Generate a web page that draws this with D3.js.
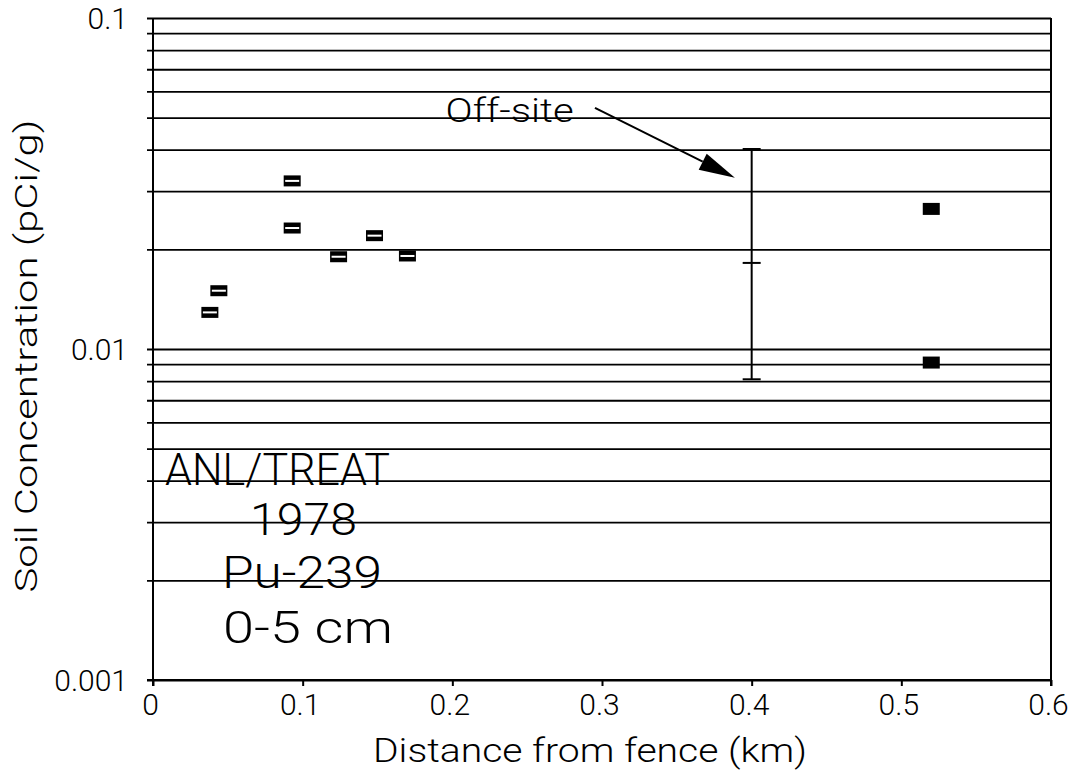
<!DOCTYPE html>
<html>
<head>
<meta charset="utf-8">
<script src="https://cdn.jsdelivr.net/npm/d3@7"></script>
<style>
  body { margin: 0; background: #fff; }
  text { font-family: Roboto, "DejaVu Sans", sans-serif; font-weight: 300; fill: #000; }
  .tick text { font-size: 30px; }
</style>
</head>
<body>
<svg class="chart" width="1078" height="774"></svg>
<script>
// on-site samples (km, pCi/g)
const onsiteX = [0.038, 0.044, 0.093, 0.093, 0.124, 0.148, 0.170]
const onsiteY = [0.0129, 0.0150, 0.0322, 0.0232, 0.0190, 0.0220, 0.0191]

// off-site samples
const offsiteX = [0.52, 0.52]
const offsiteY = [0.0265, 0.0091]

// off-site range bar at 0.4 km: low, mid, high
const rangeX = 0.4
const rangeVals = [0.0081, 0.0182, 0.0402]

const xTicks = [0, 0.1, 0.2, 0.3, 0.4, 0.5, 0.6]
const xTickLabels = ['0', '0.1', '0.2', '0.3', '0.4', '0.5', '0.6']
const yDecades = [0.001, 0.01, 0.1]
const yTickLabels = ['0.001', '0.01', '0.1']

const infoLines = ['ANL/TREAT', '1978', 'Pu-239', '0-5 cm']

const svg = d3.select('.chart')
const margin = {top:18, left:153, right:27, bottom:94}
const width = +svg.attr('width')
const height = +svg.attr('height')
const innerWidth = width - margin.left - margin.right
const innerHeight = height - margin.top - margin.bottom

const xScale = d3.scaleLinear().domain([0, 0.6]).range([0, innerWidth])
const yScale = d3.scaleLog().domain([0.001, 0.1]).range([innerHeight, 0])

const g = svg.append('g')
  .attr('transform', `translate(${margin.left},${margin.top})`)

// horizontal lines at every log tick, poking out 6px on the left
const yAxis = g.append('g')
  .attr('transform', 'translate(-6,0)')
  .call(d3.axisLeft(yScale)
    .tickSizeInner(-(innerWidth + 6))
    .tickSizeOuter(0)
    .tickPadding(19)
    .tickFormat(d => {
      const i = yDecades.findIndex(v => Math.abs(v - d) < d * 1e-6)
      return i >= 0 ? yTickLabels[i] : ''
    }))
yAxis.select('.domain').remove()
yAxis.selectAll('.tick line').attr('stroke', '#000').attr('stroke-width', 1.8)
yAxis.selectAll('.tick text').filter(function() { return this.textContent === '' }).remove()
yAxis.selectAll('.tick text').attr('dy', '0.36em')

// x axis
const xAxis = g.append('g')
  .attr('transform', `translate(0,${innerHeight})`)
  .call(d3.axisBottom(xScale)
    .tickValues(xTicks)
    .tickSize(6)
    .tickPadding(8)
    .tickFormat((d, i) => xTickLabels[i]))
xAxis.select('.domain').remove()
xAxis.selectAll('.tick line').attr('stroke', '#000').attr('stroke-width', 2)
xAxis.selectAll('.tick text').attr('dx', -3)

// frame: left, bottom, right
g.append('line').attr('x1', 0).attr('x2', 0).attr('y1', 0).attr('y2', innerHeight + 6)
  .attr('stroke', '#000').attr('stroke-width', 2)
g.append('line').attr('x1', -6).attr('x2', innerWidth).attr('y1', innerHeight).attr('y2', innerHeight)
  .attr('stroke', '#000').attr('stroke-width', 2.2)
g.append('line').attr('x1', innerWidth).attr('x2', innerWidth).attr('y1', 0).attr('y2', innerHeight + 6)
  .attr('stroke', '#000').attr('stroke-width', 2)

// on-site markers: black box with a white slit
const onsite = onsiteX.map((x, i) => ({x, y: onsiteY[i]}))
const mk = g.selectAll('.onsite').data(onsite).enter().append('g')
  .attr('class', 'onsite')
  .attr('transform', d => `translate(${xScale(d.x)},${yScale(d.y)})`)
mk.append('rect').attr('x', -8.5).attr('y', -5.5).attr('width', 17).attr('height', 11).attr('fill', '#000')
mk.append('rect').attr('x', -7).attr('y', -1).attr('width', 14).attr('height', 2).attr('fill', '#fff')

// off-site markers: solid boxes
const offsite = offsiteX.map((x, i) => ({x, y: offsiteY[i]}))
g.selectAll('.offsite').data(offsite).enter().append('rect')
  .attr('class', 'offsite')
  .attr('x', d => xScale(d.x) - 8.5)
  .attr('y', d => yScale(d.y) - 6)
  .attr('width', 17).attr('height', 12)
  .attr('fill', '#000')

// range bar
const rx = xScale(rangeX)
g.append('line')
  .attr('x1', rx).attr('x2', rx)
  .attr('y1', yScale(rangeVals[2])).attr('y2', yScale(rangeVals[0]))
  .attr('stroke', '#000').attr('stroke-width', 2)
g.selectAll('.cap').data(rangeVals).enter().append('line')
  .attr('class', 'cap')
  .attr('x1', rx - 9).attr('x2', rx + 9)
  .attr('y1', d => yScale(d)).attr('y2', d => yScale(d))
  .attr('stroke', '#000').attr('stroke-width', 2)

// Off-site label + arrow
g.append('text')
  .attr('x', xScale(0.1955)).attr('y', 104)
  .attr('font-size', 33)
  .attr('textLength', 128).attr('lengthAdjust', 'spacingAndGlyphs')
  .text('Off-site')

const a0 = [xScale(0.2953), yScale(0.0535)]
const a1 = [xScale(0.3888), yScale(0.0329)]
const ang = Math.atan2(a1[1] - a0[1], a1[0] - a0[0])
const headLen = 36, headW = 9
const base = [a1[0] - headLen * Math.cos(ang), a1[1] - headLen * Math.sin(ang)]
g.append('line')
  .attr('x1', a0[0]).attr('y1', a0[1]).attr('x2', base[0]).attr('y2', base[1])
  .attr('stroke', '#000').attr('stroke-width', 2)
g.append('path')
  .attr('d', d3.line()([
    a1,
    [base[0] + headW * Math.sin(ang), base[1] - headW * Math.cos(ang)],
    [base[0] - headW * Math.sin(ang), base[1] + headW * Math.cos(ang)]
  ]) + 'Z')
  .attr('fill', '#000')

// info block
const infoPos = [
  {x: 12, y: 467, len: 225},
  {x: 97, y: 517, len: 107},
  {x: 69, y: 570, len: 160},
  {x: 70, y: 625, len: 170}
]
g.selectAll('.info').data(infoLines).enter().append('text')
  .attr('class', 'info')
  .attr('x', (d, i) => infoPos[i].x)
  .attr('y', (d, i) => infoPos[i].y)
  .attr('font-size', 44)
  .attr('textLength', (d, i) => infoPos[i].len)
  .attr('lengthAdjust', 'spacingAndGlyphs')
  .text(d => d)

// axis titles
svg.append('text')
  .attr('x', 590).attr('y', 762)
  .attr('text-anchor', 'middle')
  .attr('font-size', 33)
  .attr('textLength', 434).attr('lengthAdjust', 'spacingAndGlyphs')
  .text('Distance from fence (km)')

svg.append('text')
  .attr('transform', 'translate(37,356) rotate(-90)')
  .attr('text-anchor', 'middle')
  .attr('font-size', 31)
  .attr('textLength', 473).attr('lengthAdjust', 'spacingAndGlyphs')
  .text('Soil Concentration (pCi/g)')
</script>
</body>
</html>
